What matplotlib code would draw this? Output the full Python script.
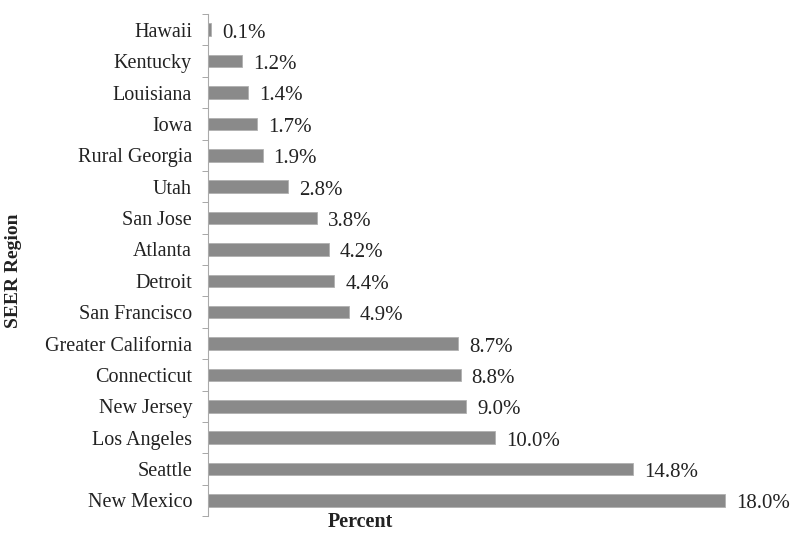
import numpy as np
import matplotlib.pyplot as plt

regions = ['Hawaii', 'Kentucky', 'Louisiana', 'Iowa', 'Rural Georgia', 'Utah',
           'San Jose', 'Atlanta', 'Detroit', 'San Francisco', 'Greater California',
           'Connecticut', 'New Jersey', 'Los Angeles', 'Seattle', 'New Mexico']
percent = [0.1, 1.2, 1.4, 1.7, 1.9, 2.8, 3.8, 4.2, 4.4, 4.9, 8.7, 8.8, 9.0, 10.0, 14.8, 18.0]

plt.rcParams['font.family'] = ['Liberation Serif', 'DejaVu Serif']

fig = plt.figure(figsize=(8, 5.41), dpi=100)
ax = fig.add_axes([0.26, 0.046, 0.715, 0.928])

y = np.arange(len(regions))
ax.barh(y, percent, height=0.4, color='#8a8a8a', edgecolor='#b0b0b0', linewidth=0.6)
for yi, v in zip(y, percent):
    ax.annotate(f'{v:.1f}%', (v, yi), xytext=(8, -2.5), textcoords='offset points',
                va='center', ha='left', fontsize=15, color='#222222')

ax.set_ylim(len(regions) - 0.5, -0.5)
ax.set_xlim(0, 19.93)
ax.set_yticks(y)
ax.set_yticklabels(regions, fontsize=14.5, color='#222222')
ax.set_yticks(np.arange(-0.5, len(regions)), minor=True)
ax.tick_params(axis='y', which='major', length=0, pad=11.5)
ax.tick_params(axis='y', which='minor', length=4, color='#999999', direction='out')
ax.set_xticks([])
for s in ['top', 'right', 'bottom']:
    ax.spines[s].set_visible(False)
ax.spines['left'].set_color('#aaaaaa')

fig.text(0.017, 0.5, 'SEER Region', rotation=90, fontsize=14, fontweight='bold',
         va='center', ha='center', color='#222222')
fig.text(0.45, 0.035, 'Percent', fontsize=14.5, fontweight='bold',
         va='center', ha='center', color='#222222')

fig.savefig('out.png', dpi=100)
